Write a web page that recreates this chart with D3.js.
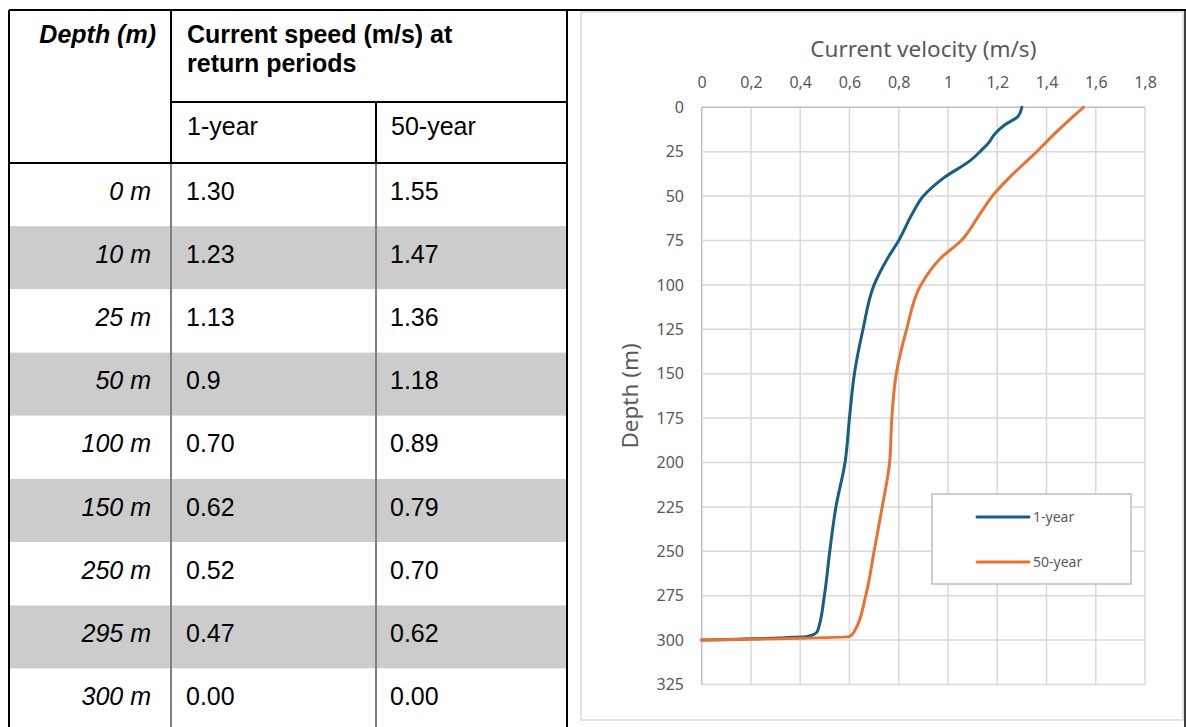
<!DOCTYPE html>
<html>
<head>
<meta charset="utf-8">
<script src="https://cdn.jsdelivr.net/npm/d3@7/dist/d3.min.js"></script>
<style>
  html, body { margin: 0; padding: 0; background: #ffffff; }
  svg { display: block; }
</style>
</head>
<body>
<svg id="page" width="1186" height="727"></svg>
<script>
// ---- Table data ----
const tableDepths = ["0 m", "10 m", "25 m", "50 m", "100 m", "150 m", "250 m", "295 m", "300 m"];
const table1yr = ["1.30", "1.23", "1.13", "0.9", "0.70", "0.62", "0.52", "0.47", "0.00"];
const table50yr = ["1.55", "1.47", "1.36", "1.18", "0.89", "0.79", "0.70", "0.62", "0.00"];
const periodLabels = ["1-year", "50-year"];

// ---- Current profile (depth stations, m) ----
const profileDepth = [0, 5, 10, 15, 20, 25, 30, 40, 50, 60, 75, 85, 100, 125, 150, 175, 200, 225, 250, 275, 295, 298, 300];
const profile1yr  = [1.30, 1.285, 1.23, 1.19, 1.165, 1.13, 1.09, 0.98, 0.90, 0.855, 0.80, 0.755, 0.70, 0.655, 0.62, 0.60, 0.582, 0.545, 0.52, 0.498, 0.47, 0.43, 0.00];
const profile50yr = [1.55, 1.51, 1.47, 1.432, 1.396, 1.36, 1.322, 1.246, 1.18, 1.13, 1.054, 0.97, 0.89, 0.832, 0.79, 0.772, 0.763, 0.733, 0.70, 0.666, 0.62, 0.60, 0.00];
const seriesColors = ["#156082", "#E97132"];

// ---- Axis ticks ----
const velocityTicks = [0, 0.2, 0.4, 0.6, 0.8, 1.0, 1.2, 1.4, 1.6, 1.8];
const depthTicks = [0, 25, 50, 75, 100, 125, 150, 175, 200, 225, 250, 275, 300, 325];

const svg = d3.select("#page");

// ================= TABLE =================
const tbl = { left: 9, right: 567, top: 10, mid: 102, head: 163, rowH: 63.2, c1: 171, c2: 376 };
const tFont = "'Liberation Sans', Arial, sans-serif";
const tSize = 25;
const tableG = svg.append("g");

// shaded body rows
tableG.selectAll("rect.shade")
  .data(tableDepths)
  .join("rect")
  .attr("class", "shade")
  .attr("x", tbl.left)
  .attr("y", (d, i) => tbl.head + i * tbl.rowH)
  .attr("width", tbl.right - tbl.left)
  .attr("height", tbl.rowH)
  .attr("fill", (d, i) => i % 2 === 1 ? "#cccccc" : "#ffffff");

// body column dividers (grey)
[tbl.c1, tbl.c2].forEach(x => {
  tableG.append("line")
    .attr("x1", x).attr("x2", x)
    .attr("y1", tbl.head).attr("y2", 727)
    .attr("stroke", "#7f7f7f").attr("stroke-width", 2);
});

// header rules (black)
const blk = (x1, y1, x2, y2, w = 2) => tableG.append("line")
  .attr("x1", x1).attr("y1", y1).attr("x2", x2).attr("y2", y2)
  .attr("stroke", "#000").attr("stroke-width", w);
blk(tbl.left, tbl.top, 1186, tbl.top);
blk(tbl.left, tbl.top, tbl.left, 727);
blk(tbl.right, tbl.top, tbl.right, 727);
blk(tbl.c1, tbl.top, tbl.c1, tbl.head);
blk(tbl.c2, tbl.mid, tbl.c2, tbl.head);
blk(tbl.c1, tbl.mid, tbl.right, tbl.mid);
blk(tbl.left, tbl.head, tbl.right, tbl.head);
blk(1185, tbl.top, 1185, 727, 1.5);

// header texts
tableG.append("text")
  .attr("x", 156).attr("y", 43)
  .attr("text-anchor", "end")
  .attr("font-family", tFont).attr("font-size", tSize)
  .attr("font-weight", "bold").attr("font-style", "italic")
  .text("Depth (m)");
tableG.append("text")
  .attr("x", 187).attr("y", 43)
  .attr("font-family", tFont).attr("font-size", tSize).attr("font-weight", "bold")
  .text("Current speed (m/s) at");
tableG.append("text")
  .attr("x", 187).attr("y", 72)
  .attr("font-family", tFont).attr("font-size", tSize).attr("font-weight", "bold")
  .text("return periods");
tableG.selectAll("text.period")
  .data(periodLabels)
  .join("text")
  .attr("class", "period")
  .attr("x", (d, i) => i === 0 ? 187 : 391)
  .attr("y", 135)
  .attr("font-family", tFont).attr("font-size", tSize)
  .text(d => d);

// body texts
const rowY = i => tbl.head + i * tbl.rowH + 36.5;
tableG.selectAll("text.depth")
  .data(tableDepths)
  .join("text")
  .attr("class", "depth")
  .attr("x", 151).attr("y", (d, i) => rowY(i))
  .attr("text-anchor", "end")
  .attr("font-family", tFont).attr("font-size", tSize).attr("font-style", "italic")
  .text(d => d);
tableG.selectAll("text.v1")
  .data(table1yr)
  .join("text")
  .attr("class", "v1")
  .attr("x", 186).attr("y", (d, i) => rowY(i))
  .attr("font-family", tFont).attr("font-size", tSize)
  .text(d => d);
tableG.selectAll("text.v50")
  .data(table50yr)
  .join("text")
  .attr("class", "v50")
  .attr("x", 390).attr("y", (d, i) => rowY(i))
  .attr("font-family", tFont).attr("font-size", tSize)
  .text(d => d);

// ================= CHART =================
const cFont = "'Noto Sans', 'Open Sans', sans-serif";
const textGrey = "#595959";
const chartG = svg.append("g");

// chart frame
chartG.append("rect")
  .attr("x", 581).attr("y", 12).attr("width", 602).attr("height", 708)
  .attr("fill", "#fff").attr("stroke", "#d9d9d9").attr("stroke-width", 1.5);

const x = d3.scaleLinear().domain([0, 1.8]).range([701.7, 1145]);
const y = d3.scaleLinear().domain([0, 325]).range([107.3, 684.5]);
const commaLocale = d3.formatLocale({ decimal: ",", thousands: ".", grouping: [3], currency: ["", ""] });
const fmtV = commaLocale.format("~g");

// grid
chartG.append("g")
  .selectAll("line")
  .data(velocityTicks)
  .join("line")
  .attr("x1", d => x(d)).attr("x2", d => x(d))
  .attr("y1", y(0)).attr("y2", y(325))
  .attr("stroke", d => d === 0 ? "#bfbfbf" : "#d9d9d9").attr("stroke-width", 1.5);
chartG.append("g")
  .selectAll("line")
  .data(depthTicks)
  .join("line")
  .attr("x1", x(0)).attr("x2", x(1.8))
  .attr("y1", d => y(d)).attr("y2", d => y(d))
  .attr("stroke", d => d === 0 ? "#bfbfbf" : "#d9d9d9").attr("stroke-width", 1.5);

// top velocity axis (labels only)
const xAxis = d3.axisTop(x).tickValues(velocityTicks).tickFormat(fmtV).tickSize(0).tickPadding(0);
const xAxisG = chartG.append("g").attr("transform", "translate(0,88)").call(xAxis);
xAxisG.select(".domain").remove();
xAxisG.selectAll("text")
  .attr("font-family", cFont).attr("font-size", 16).attr("fill", textGrey);

// left depth axis (labels only)
const yAxis = d3.axisLeft(y).tickValues(depthTicks).tickSize(0).tickPadding(0);
const yAxisG = chartG.append("g").attr("transform", "translate(684,0)").call(yAxis);
yAxisG.select(".domain").remove();
yAxisG.selectAll("text")
  .attr("font-family", cFont).attr("font-size", 16).attr("fill", textGrey);

// axis titles
chartG.append("text")
  .attr("x", (x(0) + x(1.8)) / 2).attr("y", 57)
  .attr("text-anchor", "middle")
  .attr("font-family", cFont).attr("font-size", 22.5).attr("fill", textGrey)
  .text("Current velocity (m/s)");
chartG.append("text")
  .attr("transform", `translate(638,${(y(0) + y(325)) / 2}) rotate(-90)`)
  .attr("text-anchor", "middle")
  .attr("font-family", cFont).attr("font-size", 22.5).attr("fill", textGrey)
  .text("Depth (m)");

// profile lines (smoothed along depth)
const profiles = [profile1yr, profile50yr].map((vals, k) => ({
  name: periodLabels[k],
  color: seriesColors[k],
  points: profileDepth.map((d, i) => ({ depth: d, v: vals[i] }))
}));
const line = d3.line()
  .x(p => x(p.v))
  .y(p => y(p.depth))
  .curve(d3.curveMonotoneY);
chartG.append("g")
  .selectAll("path")
  .data(profiles)
  .join("path")
  .attr("d", s => line(s.points))
  .attr("fill", "none")
  .attr("stroke", s => s.color)
  .attr("stroke-width", 3)
  .attr("stroke-linecap", "round")
  .attr("stroke-linejoin", "round");

// legend
const legG = chartG.append("g");
legG.append("rect")
  .attr("x", 932).attr("y", 494).attr("width", 199).attr("height", 90)
  .attr("fill", "#fff").attr("stroke", "#bfbfbf").attr("stroke-width", 1.5);
const legItem = legG.selectAll("g.item")
  .data(profiles)
  .join("g")
  .attr("class", "item")
  .attr("transform", (d, i) => `translate(0,${517 + i * 45})`);
legItem.append("line")
  .attr("x1", 977).attr("x2", 1029).attr("y1", 0).attr("y2", 0)
  .attr("stroke", d => d.color).attr("stroke-width", 3).attr("stroke-linecap", "round");
legItem.append("text")
  .attr("x", 1033).attr("y", 5)
  .attr("font-family", cFont).attr("font-size", 14).attr("fill", textGrey)
  .text(d => d.name);
</script>
</body>
</html>
